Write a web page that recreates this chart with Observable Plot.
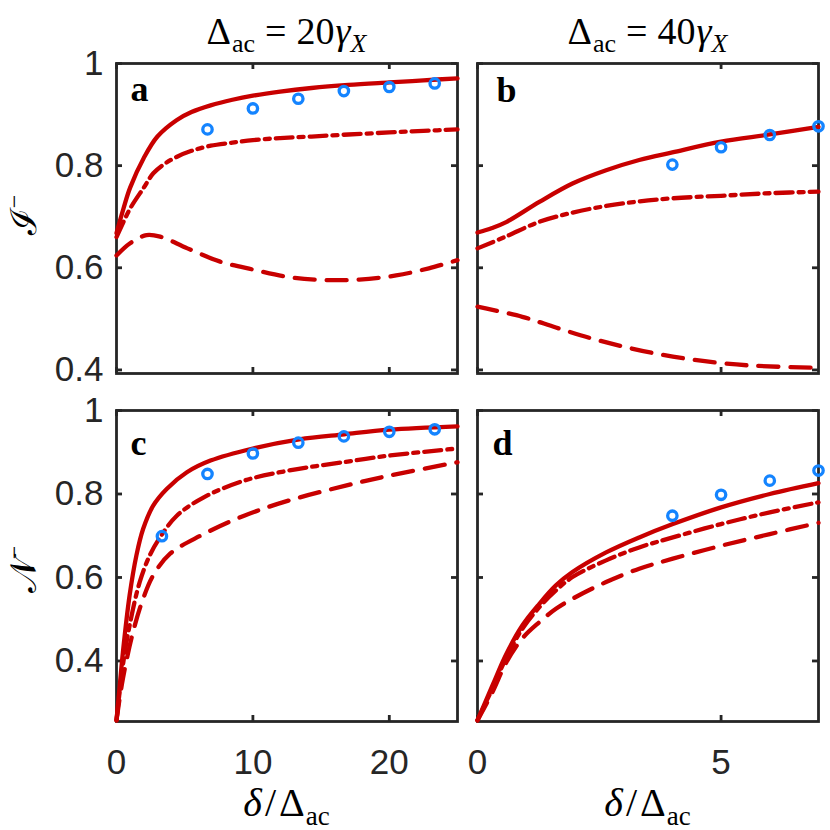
<!DOCTYPE html>
<html><head><meta charset="utf-8">
<script src="https://cdn.jsdelivr.net/npm/d3@7"></script>
<script src="https://cdn.jsdelivr.net/npm/@observablehq/plot@0.6"></script>
<style>
body{margin:0;background:#fff;}
#chart{position:relative;width:830px;height:830px;background:#fff;}
#chart svg{position:absolute;overflow:visible;}
</style></head><body><div id="chart"></div>
<script>
// ---------- data ----------
// panel a : I^- , Delta_ac = 20 gamma_X
const aSolidX   = [0, 0.5, 1, 2, 3, 4.4, 5.5, 6.9, 8.5, 10, 12, 14.3, 17, 20, 22.5, 25];
const aSolidY   = [0.668, 0.715, 0.757, 0.815, 0.857, 0.889, 0.905, 0.918, 0.929, 0.937, 0.945, 0.952, 0.958, 0.963, 0.967, 0.971];
const aDashDotX = [0, 1, 2, 2.7, 3.5, 4.4, 5.5, 6.9, 8.5, 10, 12, 14.3, 17, 20, 22.5, 25];
const aDashDotY = [0.660, 0.716, 0.757, 0.785, 0.803, 0.817, 0.829, 0.839, 0.845, 0.850, 0.854, 0.857, 0.861, 0.865, 0.868, 0.871];
const aDashedX  = [0, 1, 2.2, 3.2, 5.2, 7.6, 10.1, 12.8, 15.3, 17.8, 20.5, 22.9, 25];
const aDashedY  = [0.624, 0.648, 0.664, 0.661, 0.638, 0.612, 0.596, 0.581, 0.576, 0.577, 0.585, 0.599, 0.615];
const aCircX    = [6.67, 10, 13.33, 16.67, 20, 23.33];
const aCircY    = [0.871, 0.912, 0.931, 0.946, 0.954, 0.961];
// panel b : I^- , Delta_ac = 40 gamma_X
const bSolidX   = [0, 0.3, 0.6, 1.27, 1.95, 2.64, 3.32, 4, 5, 6, 7];
const bSolidY   = [0.669, 0.678, 0.690, 0.729, 0.765, 0.791, 0.811, 0.826, 0.847, 0.861, 0.876];
const bDashDotX = [0, 0.58, 1.27, 1.95, 2.64, 3.32, 4, 5, 6, 7];
const bDashDotY = [0.638, 0.661, 0.690, 0.708, 0.721, 0.730, 0.736, 0.741, 0.746, 0.749];
const bDashedX  = [0, 0.92, 1.61, 2.29, 2.98, 3.66, 4.35, 5.03, 5.72, 7];
const bDashedY  = [0.524, 0.504, 0.483, 0.463, 0.446, 0.432, 0.421, 0.413, 0.408, 0.404];
const bCircX    = [4, 5, 6, 7];
const bCircY    = [0.802, 0.836, 0.860, 0.877];
// panel c : N^- , Delta_ac = 20 gamma_X
const cSolidX   = [0, 0.25, 0.47, 0.96, 1.46, 1.95, 2.69, 3.68, 5.16, 6.89, 10, 13.4, 16.7, 20, 25];
const cSolidY   = [0.258, 0.345, 0.421, 0.557, 0.653, 0.716, 0.772, 0.812, 0.852, 0.880, 0.909, 0.931, 0.943, 0.954, 0.962];
const cDashDotX = [0, 0.47, 0.96, 1.70, 2.44, 3.19, 4.42, 6.4, 9.36, 12.6, 16.8, 20, 25];
const cDashDotY = [0.258, 0.390, 0.485, 0.589, 0.653, 0.696, 0.748, 0.792, 0.832, 0.856, 0.877, 0.892, 0.909];
const cDashedX  = [0, 0.47, 1.21, 1.95, 2.69, 3.93, 6.15, 9.36, 12.6, 16.8, 20, 25];
const cDashedY  = [0.258, 0.358, 0.469, 0.549, 0.605, 0.657, 0.700, 0.748, 0.784, 0.820, 0.844, 0.876];
const cCircX    = [3.33, 6.67, 10, 13.33, 16.67, 20, 23.33];
const cCircY    = [0.699, 0.848, 0.897, 0.923, 0.938, 0.949, 0.955];
// panel d : N^- , Delta_ac = 40 gamma_X
const dSolidX   = [0, 0.31, 0.58, 0.92, 1.27, 1.61, 1.95, 2.64, 3.32, 4.01, 5, 6, 7];
const dSolidY   = [0.258, 0.342, 0.414, 0.485, 0.537, 0.581, 0.613, 0.660, 0.696, 0.728, 0.768, 0.800, 0.826];
const dDashDotX = [0, 0.31, 0.58, 0.92, 1.27, 1.61, 1.95, 2.64, 3.32, 4.01, 5, 6, 7];
const dDashDotY = [0.258, 0.335, 0.405, 0.477, 0.529, 0.569, 0.601, 0.641, 0.672, 0.696, 0.728, 0.756, 0.780];
const dDashedX  = [0, 0.31, 0.58, 0.92, 1.27, 1.61, 1.95, 2.64, 3.32, 4.01, 5, 6, 7];
const dDashedY  = [0.258, 0.326, 0.394, 0.454, 0.493, 0.525, 0.549, 0.589, 0.621, 0.645, 0.676, 0.704, 0.731];
const dCircX    = [4, 5, 6, 7];
const dCircY    = [0.748, 0.798, 0.832, 0.856];

// axes / ticks
const xTicks20 = [0, 10, 20];
const xTicks40 = [0, 5];
const yTicks   = [0.4, 0.6, 0.8, 1];
const xDom20 = [0, 25], xDom40 = [0, 7];
const yDomTop = [0.393, 1], yDomBot = [0.255, 1];
const panelLetters = ["a", "b", "c", "d"];

// ---------- drawing ----------
const RED = "#C80000", BLUE = "#1484FF", INK = "#262626";
const rows = (xs, ys) => xs.map((x, i) => ({x, y: ys[i]}));
const chart = document.getElementById("chart");

function panel(o) {
  const innerH = o.height - o.mT - o.mB;
  const innerW = o.width - o.mL - o.mR;
  const tk = 6;
  const lw = 4.3;
  const fw = 2.8;
  const marks = [
    Plot.frame({stroke: INK, strokeWidth: fw}),
    Plot.tickX(o.xTicks, {x: d => d, stroke: INK, strokeWidth: fw, insetTop: innerH - tk}),
    Plot.tickX(o.xTicks, {x: d => d, stroke: INK, strokeWidth: fw, insetBottom: innerH - tk}),
    Plot.tickY(yTicks, {y: d => d, stroke: INK, strokeWidth: fw, insetRight: innerW - tk}),
    Plot.tickY(yTicks, {y: d => d, stroke: INK, strokeWidth: fw, insetLeft: innerW - tk}),
    Plot.line(o.dashed, {x: "x", y: "y", stroke: RED, strokeWidth: lw, curve: "catmull-rom", strokeDasharray: "20,12"}),
    Plot.line(o.dashdot, {x: "x", y: "y", stroke: RED, strokeWidth: lw, curve: "catmull-rom", strokeDasharray: "17,6,5,6"}),
    Plot.line(o.solid, {x: "x", y: "y", stroke: RED, strokeWidth: lw, curve: "catmull-rom"}),
    Plot.dot(o.circles, {x: "x", y: "y", r: 4.7, stroke: BLUE, strokeWidth: 3.3, fill: "none"}),
    Plot.text([o.letter], {text: d => d, frameAnchor: "top-left", dx: o.letterDx, dy: o.letterDy,
      lineAnchor: "top", textAnchor: "start", fontSize: 36, fontWeight: "bold",
      fontFamily: "Liberation Serif", fill: "#000"})
  ];
  if (o.showX) marks.push(Plot.axisX({ticks: o.xTicks, tickSize: 0, tickPadding: 28, fontSize: 35,
    tickFormat: d => String(d), label: null}));
  if (o.showY) marks.push(Plot.axisY({ticks: yTicks, tickSize: 0, tickPadding: 13, fontSize: 35,
    tickFormat: d => (d === 1 ? "1" : d.toFixed(1)), label: null}));
  const svg = Plot.plot({
    width: o.width, height: o.height,
    marginLeft: o.mL, marginRight: o.mR, marginTop: o.mT, marginBottom: o.mB,
    x: {domain: o.xDomain, ...(o.showX ? {} : {axis: null})},
    y: {domain: o.yDomain, ...(o.showY ? {} : {axis: null})},
    style: {background: "transparent", color: INK, fontFamily: "Liberation Sans, Arial, sans-serif", overflow: "visible"},
    marks
  });
  svg.style.left = o.left + "px";
  svg.style.top = o.top + "px";
  chart.appendChild(svg);
  return {svg, cx: o.mL + innerW / 2, cy: o.mT + innerH / 2};
}

function mathText(svg, x, y, parts, opts = {}) {
  const size = opts.size || 38, subSize = Math.round(size * 0.68);
  const t = d3.select(svg).append("text")
    .attr("text-anchor", "middle")
    .attr("font-family", "Liberation Serif, DejaVu Serif, serif")
    .attr("font-size", size).attr("fill", "#000");
  if (opts.rotate) t.attr("transform", `translate(${x},${y}) rotate(-90)`);
  else t.attr("x", x).attr("y", y);
  let shift = 0;
  for (const p of parts) {
    const ts = t.append("tspan").text(p.t);
    if (p.italic) ts.attr("font-style", "italic");
    if (p.family) ts.attr("font-family", p.family);
    const want = p.sub ? Math.round(size * 0.22) : p.sup ? -Math.round(size * 0.38) : 0;
    if (want !== shift) { ts.attr("dy", want - shift); shift = want; }
    if (p.dx) ts.attr("dx", p.dx);
    if (p.sub || p.sup) ts.attr("font-size", subSize);
  }
  return t;
}

const A = panel({left: 0, top: 0, width: 467, height: 395, mL: 116, mR: 10, mT: 63, mB: 22,
  xDomain: xDom20, yDomain: yDomTop, xTicks: xTicks20,
  solid: rows(aSolidX, aSolidY), dashdot: rows(aDashDotX, aDashDotY), dashed: rows(aDashedX, aDashedY),
  circles: rows(aCircX, aCircY), showX: false, showY: true, letter: panelLetters[0], letterDx: 14, letterDy: 12});
const B = panel({left: 467, top: 0, width: 363, height: 395, mL: 10, mR: 12, mT: 63, mB: 22,
  xDomain: xDom40, yDomain: yDomTop, xTicks: xTicks40,
  solid: rows(bSolidX, bSolidY), dashdot: rows(bDashDotX, bDashDotY), dashed: rows(bDashedX, bDashedY),
  circles: rows(bCircX, bCircY), showX: false, showY: false, letter: panelLetters[1], letterDx: 19, letterDy: 13});
const C = panel({left: 0, top: 395, width: 467, height: 435, mL: 116, mR: 10, mT: 15, mB: 109,
  xDomain: xDom20, yDomain: yDomBot, xTicks: xTicks20,
  solid: rows(cSolidX, cSolidY), dashdot: rows(cDashDotX, cDashDotY), dashed: rows(cDashedX, cDashedY),
  circles: rows(cCircX, cCircY), showX: true, showY: true, letter: panelLetters[2], letterDx: 14, letterDy: 19});
const D = panel({left: 467, top: 395, width: 363, height: 435, mL: 10, mR: 12, mT: 15, mB: 109,
  xDomain: xDom40, yDomain: yDomBot, xTicks: xTicks40,
  solid: rows(dSolidX, dSolidY), dashdot: rows(dDashDotX, dDashDotY), dashed: rows(dDashedX, dDashedY),
  circles: rows(dCircX, dCircY), showX: true, showY: false, letter: panelLetters[3], letterDx: 15, letterDy: 19});

// column titles
const title = n => [{t: "Δ"}, {t: "ac", sub: true, dx: 1}, {t: "=", dx: 10}, {t: n, dx: 10},
  {t: "γ", italic: true, dx: 1}, {t: "X", italic: true, sub: true}];
mathText(A.svg, A.cx, 44, title("20"));
mathText(B.svg, B.cx, 44, title("40"));
// x labels
const xlab = [{t: "δ", italic: true}, {t: "/", dx: 3}, {t: "Δ", dx: 3}, {t: "ac", sub: true, dx: 1}];
mathText(C.svg, C.cx, 421, xlab, {size: 40});
mathText(D.svg, D.cx, 421, xlab, {size: 40});
// y labels
mathText(A.svg, 36, A.cy - 3, [{t: "ℐ", family: "DejaVu Serif"}, {t: "−", sup: true}], {rotate: true, size: 36});
mathText(C.svg, 36, C.cy + 4, [{t: "𝒩", family: "DejaVu Serif"}, {t: "−", sup: true}], {rotate: true, size: 36});
</script></body></html>
